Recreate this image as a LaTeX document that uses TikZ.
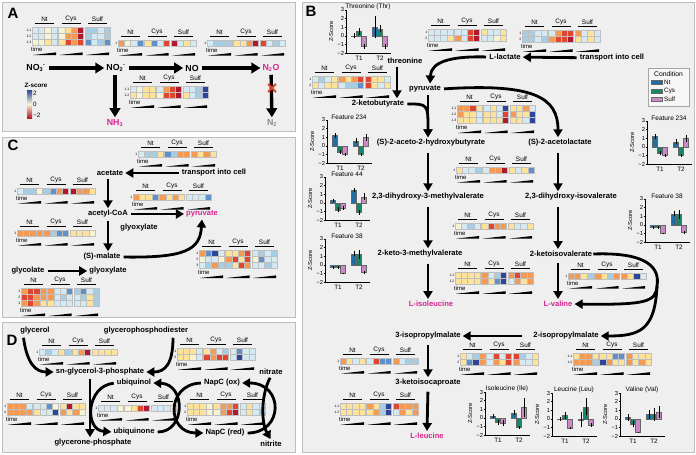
\documentclass[tikz,border=0pt]{standalone}
\usepackage{fontspec}
\setmainfont{Liberation Sans}
\usetikzlibrary{arrows.meta}

\definecolor{hmR}{HTML}{B2182B}
\definecolor{hmr}{HTML}{E0452F}
\definecolor{hmo}{HTML}{F59A55}
\definecolor{hmy}{HTML}{FDE29A}
\definecolor{hmw}{HTML}{F6F4D2}
\definecolor{hmc}{HTML}{D4E9F2}
\definecolor{hmb}{HTML}{A6CDE4}
\definecolor{hmB}{HTML}{5F90C8}
\definecolor{hmD}{HTML}{2D469B}
\definecolor{panelbg}{HTML}{EFEFEF}
\definecolor{panelline}{HTML}{BDBDBD}
\definecolor{endpink}{HTML}{D6258E}
\definecolor{barNt}{HTML}{1F6EA6}
\definecolor{barCys}{HTML}{14876A}
\definecolor{barSulf}{HTML}{C98AC6}

\newcommand{\ionsc}[1]{\mbox{\fontsize{5.5}{6}\selectfont\bfseries #1}}

% heatmap pieces: labels on top, one row of 12 cells, time wedges below
\newcommand{\hmhead}[3]{%
  \foreach \lab [count=\kk from 0] in {Nt,Cys,Sulf} {
    \node[hmlab] (#1-\lab) at ({#2+12.5+26.5*\kk},{#3-8}) {\lab};
    \draw[line width=0.7pt] ({#2+3+26.5*\kk},{#3-3.5}) -- ({#2+22+26.5*\kk},{#3-3.5});
  }}
\newcommand{\hmrow}[5]{%
  \node[rowlab, anchor=east] (#1) at ({#2-0.5},{#3+3.1}) {#4};
  \foreach \cc [count=\ii from 0] in {#5} {
    \pgfmathsetmacro{\xx}{#2+6.25*\ii+1.5*int(\ii/4)}
    \filldraw[fill=hm\cc, draw=black!25, line width=0.25pt] (\xx,#3) rectangle ++(6.25,6.2);
  }}
\newcommand{\hmfoot}[3]{%
  \node[timelab, anchor=west] (#1-time) at ({#2-1},{#3+3.8}) {time};
  \foreach \kk in {0,1,2}
    \fill ({#2+1+26.5*\kk},{#3+9.4}) -- ({#2+24+26.5*\kk},{#3+6.8}) -- ({#2+24+26.5*\kk},{#3+9.4}) -- cycle;
}
% bar chart of z-scores, T1 and T2, three conditions each
\newcommand{\zchart}[5]{%
  \node[charttitle] (#1-title) at ({#2+22},{#3-3}) {#4};
  \draw[line width=0.4pt] (#2,#3) -- (#2,{#3+43}) -- ({#2+45},{#3+43});
  \foreach \tkv/\tkl [count=\nn] in {3/3,2/2,1/1,0/0,-1/−1,-2/−2} {
    \draw[line width=0.4pt] ({#2-1.5},{#3+(3-(\tkv))*8.6}) -- (#2,{#3+(3-(\tkv))*8.6});
    \node[ticklab, anchor=east] (#1-tick\nn) at ({#2-1.3},{#3+(3-(\tkv))*8.6}) {\tkl};
  }
  \node[ticklab, rotate=90] (#1-ylab) at ({#2-15},{#3+21.5}) {Z-Score};
  \node[ticklab, font=\fontsize{6.3}{7}\selectfont] (#1-T1) at ({#2+13},{#3+48.5}) {T1};
  \node[ticklab, font=\fontsize{6.3}{7}\selectfont] (#1-T2) at ({#2+34},{#3+48.5}) {T2};
  \foreach \bv/\be [count=\ii from 0] in {#5} {
    \pgfmathsetmacro{\xc}{#2+13+21*int(\ii/3)+5*(int(mod(\ii,3))-1)}
    \pgfmathparse{{"barNt","barCys","barSulf"}[int(mod(\ii,3))]}
    \let\bc\pgfmathresult
    \filldraw[fill=\bc, draw=black!60, line width=0.2pt] ({\xc-2.5},{#3+25.8}) rectangle ({\xc+2.5},{#3+(3-(\bv))*8.6});
    \draw[line width=0.6pt] (\xc,{#3+(3-(\bv)+(\be))*8.6}) -- (\xc,{#3+(3-(\bv)-(\be))*8.6});
  }}

\begin{document}
\begin{tikzpicture}[x=1pt, y=-1pt,
  met/.style={font=\fontsize{7.6}{8}\selectfont\bfseries, inner sep=1pt},
  endprod/.style={met, text=endpink},
  gas/.style={met, text=black!45},
  ion/.style={font=\fontsize{8.8}{9}\selectfont\bfseries, inner sep=1pt},
  flow/.style={line width=2.8pt, -{Triangle[length=8pt,width=9pt]}, shorten <=2pt, shorten >=1pt},
  bigflow/.style={line width=3.4pt, -{Triangle[length=9pt,width=10.5pt]}, shorten <=2pt, shorten >=1pt},
  panel/.style={fill=panelbg, draw=panelline, line width=0.6pt},
  letter/.style={font=\fontsize{15}{16}\selectfont\bfseries, inner sep=0pt},
  hmlab/.style={font=\fontsize{6.4}{7}\selectfont, inner sep=0pt},
  rowlab/.style={font=\fontsize{3.4}{4}\selectfont, inner sep=0pt},
  timelab/.style={font=\fontsize{6}{6}\selectfont, inner sep=0pt},
  ticklab/.style={font=\fontsize{5.8}{6}\selectfont, inner sep=0.5pt},
  charttitle/.style={font=\fontsize{6.5}{7}\selectfont, inner sep=0pt},
  legtext/.style={font=\fontsize{6.3}{7}\selectfont, inner sep=0pt, anchor=west}]

\useasboundingbox (0,0) rectangle (696,455);
\fill[white] (0,0) rectangle (696,455);
\draw[panel] (2,2) rectangle (295,131);
\draw[panel] (2,137) rectangle (295,317);
\draw[panel] (2,322) rectangle (295,452);
\draw[panel] (302,2) rectangle (694,452);

%%%% A
\node[letter] (labA) at (13,13) {A};
\hmhead{hA1}{32}{27}
\hmrow{hA1a}{32}{27}{1.1}{c,c,w,c,w,y,o,R,b,b,c,b}
\hmrow{hA1b}{32}{33.2}{1.2}{c,c,w,c,w,o,o,R,b,c,c,b}
\hmrow{hA1c}{32}{39.4}{1.3}{w,w,y,c,y,r,o,r,B,c,b,B}
\hmfoot{hA1}{32}{45.6}
\hmhead{hA2}{118}{40}
\hmrow{hA2a}{118}{40}{1}{o,w,c,B,y,B,c,r,R,c,y,c}
\hmfoot{hA2}{118}{46.2}
\hmhead{hA3}{207}{40}
\hmrow{hA3a}{207}{40}{1}{c,b,b,b,y,y,o,R,r,c,b,c}
\hmfoot{hA3}{207}{46.2}
\hmhead{hA4}{130}{86}
\hmrow{hA4a}{130}{86}{1.1}{c,w,y,y,c,o,r,R,c,c,b,D}
\hmrow{hA4b}{130}{92.2}{1.2}{y,w,y,y,w,r,r,R,y,c,b,D}
\hmfoot{hA4}{130}{98.4}

\node[ion] (no3) at (36,68) {NO$_{\ionsc{3}}$$^{\ionsc{-}}$};
\node[ion] (no2) at (116,68) {NO$_{\ionsc{2}}$$^{\ionsc{-}}$};
\node[ion] (no) at (192,68) {NO};
\node[ion, text=endpink] (n2o) at (271,68) {N$_{\ionsc{2}}$O};
\node[ion, text=endpink] (nh3) at (115,123) {NH$_{\ionsc{3}}$};
\node[ion, text=black!45] (n2) at (272,123) {N$_{\ionsc{2}}$};
\draw[bigflow] (no3) -- (no2);
\draw[bigflow] (no2) -- (no);
\draw[bigflow] (no) -- (n2o);
\draw[bigflow] (no2.south -| nh3) -- (nh3);
\draw[bigflow] (n2o) -- (n2);
\draw[hmr, line width=1.8pt] (268,84) -- (276,92) (268,92) -- (276,84);

\node[font=\fontsize{6.3}{7}\selectfont\bfseries, inner sep=0pt] (zsc) at (36,85) {Z-score};
\shade[top color=hmD, bottom color=hmR, middle color=hmw] (27,90) rectangle (32,118);
\node[legtext] (z2) at (33,93) {2};
\node[legtext] (z0) at (33,104) {0};
\node[legtext] (zm2) at (33,115.5) {−2};

%%%% C
\node[letter] (labC) at (13,145) {C};
\hmhead{hC1}{138}{151}
\hmrow{hC1a}{138}{151}{1}{c,b,b,y,B,b,o,o,o,y,o,y}
\hmfoot{hC1}{138}{157.2}
\hmhead{hC2}{17}{188}
\hmrow{hC2a}{17}{188}{1}{c,b,b,w,b,B,o,R,R,o,o,y}
\hmfoot{hC2}{17}{194.2}
\hmhead{hC3}{133}{194}
\hmrow{hC3a}{133}{194}{1}{o,y,y,B,o,y,o,y,c,c,c,B}
\hmfoot{hC3}{133}{200.2}
\hmhead{hC4}{17}{230}
\hmrow{hC4a}{17}{230}{1}{o,o,o,o,o,b,B,B,y,y,y,w}
\hmfoot{hC4}{17}{236.2}
\hmhead{hC5}{199}{250}
\hmrow{hC5a}{199}{250}{1}{o,B,D,c,y,y,o,r,c,b,c,b}
\hmrow{hC5b}{199}{256.2}{2}{w,c,c,w,o,r,y,r,w,B,c,c}
\hmrow{hC5c}{199}{262.4}{3}{c,b,o,b,b,y,r,o,c,c,b,c}
\hmfoot{hC5}{199}{268.6}
\hmhead{hC6}{21}{288}
\hmrow{hC6a}{21}{288}{1}{o,r,r,o,o,c,c,B,b,B,c,b}
\hmrow{hC6b}{21}{294.2}{2}{r,r,o,o,o,c,b,c,c,b,y,b}
\hmrow{hC6c}{21}{300.4}{3}{o,r,o,y,y,c,c,c,c,c,y,b}
\hmfoot{hC6}{21}{306.6}

\node[met] (ace) at (110,173) {acetate};
\node[met] (trC) at (214,173) {transport into cell};
\node[met] (acoa) at (108,214) {acetyl-CoA};
\node[endprod] (pyrC) at (202,214) {pyruvate};
\node[met] (glx1) at (139,228) {glyoxylate};
\node[met] (mal) at (102,257) {(S)-malate};
\node[met] (glc) at (28,271) {glycolate};
\node[met] (glx2) at (108,271) {glyoxylate};
\draw[flow] (trC) -- (ace);
\draw[flow] (ace.south -| acoa) -- (acoa.north);
\draw[flow] (acoa) -- (pyrC);
\draw[flow] (acoa.south) -- (acoa.south |- mal.north);
\draw[flow] (mal.east) .. controls (185,258) and (200,250) .. (pyrC.south);
\draw[flow] (glc) -- (glx2);

%%%% D
\node[letter] (labD) at (12,340) {D};
\hmhead{hD1}{39}{349}
\hmrow{hD1a}{39}{349}{1}{c,b,c,y,b,y,o,R,y,y,y,y}
\hmfoot{hD1}{39}{355.2}
\hmhead{hD2}{177}{348}
\hmrow{hD2a}{177}{348}{1}{y,y,y,c,y,o,c,b,c,B,c,c}
\hmrow{hD2b}{177}{354.2}{2}{y,y,w,c,r,o,r,r,c,D,c,c}
\hmfoot{hD2}{177}{360.4}
\hmhead{hD3}{7}{403}
\hmrow{hD3a}{7}{403}{1}{o,o,o,c,c,c,B,w,y,R,y,y}
\hmrow{hD3b}{7}{409.2}{2}{o,o,o,o,y,c,c,D,o,y,o,w}
\hmfoot{hD3}{7}{415.4}
\hmhead{hD4}{98}{405}
\hmrow{hD4a}{98}{405}{1}{c,c,c,w,w,y,r,R,c,c,c,w}
\hmfoot{hD4}{98}{411.2}
\hmhead{hD5}{187}{403}
\hmrow{hD5a}{187}{403}{1}{y,y,y,w,y,o,o,r,c,y,c,c}
\hmrow{hD5b}{187}{409.2}{2}{y,y,y,w,w,o,r,R,c,y,c,b}
\hmfoot{hD5}{187}{415.4}

\node[met] (gly) at (35,331) {glycerol};
\node[met] (gpd) at (146,331) {glycerophosphodiester};
\node[met] (g3p) at (100,372) {sn-glycerol-3-phosphate};
\node[met] (gnp) at (93,443) {glycerone-phosphate};
\node[met] (uqh) at (134,383) {ubiquinol};
\node[met] (uq) at (134,432) {ubiquinone};
\node[met] (napox) at (222,383) {NapC (ox)};
\node[met] (napred) at (225,433) {NapC (red)};
\node[met] (nta) at (271,372) {nitrate};
\node[met] (nti) at (271,444) {nitrite};
\draw[flow] ([xshift=4pt]gly.south west) .. controls (27,364) and (36,372) .. (g3p.west);
\draw[flow] ([xshift=27pt]gpd.south) .. controls (173,364) and (165,372) .. (g3p.east);
\draw[flow] ([xshift=-10pt]g3p.south) -- ([xshift=-3pt]gnp.north);
\draw[flow] (uqh.west) .. controls (86,386) and (84,430) .. (uq.west);
\draw[flow] (uq.east) .. controls (186,432) and (186,384) .. (uqh.east);
\draw[flow] (napox.west) .. controls (166,384) and (166,433) .. (napred.west);
\draw[flow] (napred.east) .. controls (284,433) and (284,383) .. (napox.east);
\draw[flow] (nta.south) .. controls (261,395) and (261,422) .. (nti.north);

%%%% B
\node[letter] (labB) at (311,11) {B};
\zchart{thrc}{346}{10}{Threonine (Thr)}{0/0.3, 0.5/0.4, -1.2/0.3, 1.0/1.3, 0.8/0.4, -1.2/0.3}
\zchart{f234a}{327}{120}{Feature 234}{1.2/0.3, -0.7/0.2, -1.0/0.2, 0.6/0.3, -1.0/0.2, 1.0/0.4}
\zchart{f44}{325}{177}{Feature 44}{0.3/0.2, -0.8/0.3, -0.6/0.2, 1.5/0.2, -1.1/0.3, 0.7/0.4}
\zchart{f38a}{325}{239}{Feature 38}{-0.3/0.2, -0.3/0.2, -1.0/0.1, 1.3/0.3, 1.2/0.5, -0.9/0.2}
\zchart{f234b}{647}{121}{Feature 234}{1.2/0.3, -0.7/0.2, -1.0/0.2, 0.6/0.3, -1.0/0.2, 1.0/0.4}
\zchart{f38b}{645}{199}{Feature 38}{-0.3/0.2, -0.3/0.2, -1.0/0.1, 1.3/0.3, 1.2/0.5, -0.9/0.2}
\zchart{ilec}{485}{392}{Isoleucine (Ile)}{0.2/0.2, -0.5/0.3, -0.6/0.3, 0.6/0.3, -1.1/0.2, 1.2/1.1}
\zchart{leuc}{552}{393}{Leucine (Leu)}{0/0.2, 0.4/0.4, -1.1/0.1, -0.1/0.9, 1.4/1.0, -0.7/0.2}
\zchart{valc}{620}{393}{Valine (Val)}{0.2/0.4, -0.6/0.4, -1.6/0.1, 0.5/0.5, 0.5/0.7, 0.8/0.7}

\node[draw=black!35, fill=black!3, line width=0.6pt, minimum width=41pt, minimum height=38pt] (cond) at (668.5,87) {};
\node[font=\fontsize{6.8}{7}\selectfont, inner sep=0pt] (condt) at (668.5,74) {Condition};
\foreach \cn/\cy in {Nt/82.5,Cys/91,Sulf/99.5} {
  \filldraw[fill=bar\cn, draw=black!60, line width=0.2pt] (651,{\cy-2}) rectangle (662,{\cy+2});
  \node[legtext] (leg\cn) at (664,\cy) {\cn};
}

\hmhead{hB0}{312}{76}
\hmrow{hB0a}{312}{76}{1}{c,b,c,y,o,y,o,r,r,y,y,c}
\hmrow{hB0b}{312}{82.2}{2}{y,c,y,y,c,b,b,B,r,y,c,y}
\hmfoot{hB0}{312}{88.4}
\hmhead{hB1}{428}{29}
\hmrow{hB1a}{428}{29}{1}{c,c,c,c,c,c,r,R,y,c,c,y}
\hmrow{hB1b}{428}{35.2}{2}{c,c,c,y,o,c,r,R,c,c,w,y}
\hmfoot{hB1}{428}{41.4}
\hmhead{hB2}{522}{30}
\hmrow{hB2a}{522}{30}{1}{b,b,c,c,c,o,r,r,o,c,y,c}
\hmrow{hB2b}{522}{36.2}{2}{b,b,c,b,o,r,r,R,y,c,y,c}
\hmfoot{hB2}{522}{42.4}
\hmhead{hB3}{457}{105}
\hmrow{hB3a}{457}{105}{1.1}{o,o,r,y,c,y,c,D,y,y,o,c}
\hmrow{hB3b}{457}{111.2}{1.2}{o,y,y,c,y,y,c,r,o,y,y,D}
\hmrow{hB3c}{457}{117.4}{1.3}{y,y,y,c,y,y,y,R,y,y,c,D}
\hmfoot{hB3}{457}{123.6}
\hmhead{hB4}{456}{167}
\hmrow{hB4a}{456}{167}{1}{y,c,c,b,c,o,o,R,y,c,y,B}
\hmfoot{hB4}{456}{173.2}
\hmhead{hB5}{455}{223}
\hmrow{hB5a}{455}{223}{1}{w,c,b,c,y,r,o,o,y,c,c,y}
\hmfoot{hB5}{455}{229.2}
\hmhead{hB6}{455}{272}
\hmrow{hB6a}{455}{272}{1.1}{y,y,y,y,o,c,b,D,o,r,o,o}
\hmrow{hB6b}{455}{278.2}{1.2}{y,y,y,y,o,y,B,D,c,o,y,o}
\hmfoot{hB6}{455}{284.4}
\hmhead{hB11}{568}{273}
\hmrow{hB11a}{568}{273}{1}{o,o,y,b,o,y,b,o,o,y,D,c}
\hmfoot{hB11}{568}{279.2}
\hmhead{hB7}{340}{358}
\hmrow{hB7a}{340}{358}{1}{o,y,c,y,c,r,B,B,o,c,b,b}
\hmfoot{hB7}{340}{364.2}
\hmhead{hB8}{340}{403}
\hmrow{hB8a}{340}{403}{1.1}{y,y,y,y,o,y,b,D,r,o,o,o}
\hmrow{hB8b}{340}{409.2}{1.2}{y,y,y,y,y,o,b,D,c,o,y,o}
\hmfoot{hB8}{340}{415.4}
\hmhead{hB9}{460}{353}
\hmrow{hB9a}{460}{353}{1}{y,c,b,o,c,r,c,r,r,b,c,y}
\hmrow{hB9b}{460}{359.2}{2}{y,B,D,o,c,o,y,r,o,c,c,y}
\hmfoot{hB9}{460}{365.4}
\hmhead{hB10}{573}{353}
\hmrow{hB10a}{573}{353}{1.1}{y,o,o,y,y,y,B,B,o,y,y,y}
\hmrow{hB10b}{573}{359.2}{1.2}{o,o,o,b,D,o,y,y,o,y,o,y}
\hmfoot{hB10}{573}{365.4}

\node[met] (thr) at (405,61) {threonine};
\node[met] (lac) at (505,57) {L-lactate};
\node[met] (trB) at (612,58) {transport into cell};
\node[met] (pyr) at (425,89) {pyruvate};
\node[met] (kb) at (378,104) {2-ketobutyrate};
\node[met] (ahb) at (431,143) {(S)-2-aceto-2-hydroxybutyrate};
\node[met] (al) at (560,143) {(S)-2-acetolactate};
\node[met] (dhmv) at (428,197) {2,3-dihydroxy-3-methylvalerate};
\node[met] (dhiv) at (571,197) {2,3-dihydroxy-isovalerate};
\node[met] (kmv) at (420,254) {2-keto-3-methylvalerate};
\node[met] (kiv) at (561,254) {2-ketoisovalerate};
\node[endprod] (ile) at (431,304) {L-isoleucine};
\node[endprod] (val) at (558,304) {L-valine};
\node[met] (ipm2) at (566,336) {2-isopropylmalate};
\node[met] (ipm3) at (428,336) {3-isopropylmalate};
\node[met] (kic) at (428,383) {3-ketoisocaproate};
\node[endprod] (leu) at (427,436) {L-leucine};
\coordinate (vsplit) at (657,286);

\draw[flow] (trB) -- (lac);
\draw[flow] (lac.west) .. controls (450,56) and (431,62) .. ([xshift=5pt]pyr.north);
\draw[flow] ([xshift=-8pt]thr.south) -- ([xshift=19pt]kb.north);
\draw[flow] (kb.east) .. controls (428,104) .. (dhmv |- ahb.north);
\draw[flow] (dhmv |- pyr.south) -- (dhmv |- ahb.north);
\draw[flow] (pyr.east) .. controls (535,83) and (558,98) .. (val |- al.north);
\draw[flow, shorten <=5pt] (dhmv |- ahb.south) -- (dhmv.north);
\draw[flow, shorten <=5pt] (dhmv.south) -- (dhmv |- kmv.north);
\draw[flow, shorten <=5pt] (dhmv |- kmv.south) -- (dhmv |- ile.north);
\draw[flow, shorten <=5pt] (val |- al.south) -- (val |- dhiv.north);
\draw[flow, shorten <=5pt] (val |- dhiv.south) -- (val |- kiv.north);
\draw[flow, shorten <=5pt] (val |- kiv.south) -- (val.north);
\draw[line width=2.8pt] (kiv.east) .. controls (648,252) and (660,268) .. (vsplit);
\draw[flow, shorten <=0pt] (vsplit) .. controls (655,330) and (640,336) .. (ipm2.east);
\draw[flow, shorten <=0pt] (vsplit) .. controls (656,302) and (646,305) .. (val.east);
\draw[flow, shorten <=10pt] (ipm2.west) -- (ipm3.east);
\draw[flow, shorten <=4pt] (ipm3.south) -- (kic.north);
\draw[flow, shorten <=4pt] (kic.south) -- (leu.north);
\end{tikzpicture}
\end{document}
